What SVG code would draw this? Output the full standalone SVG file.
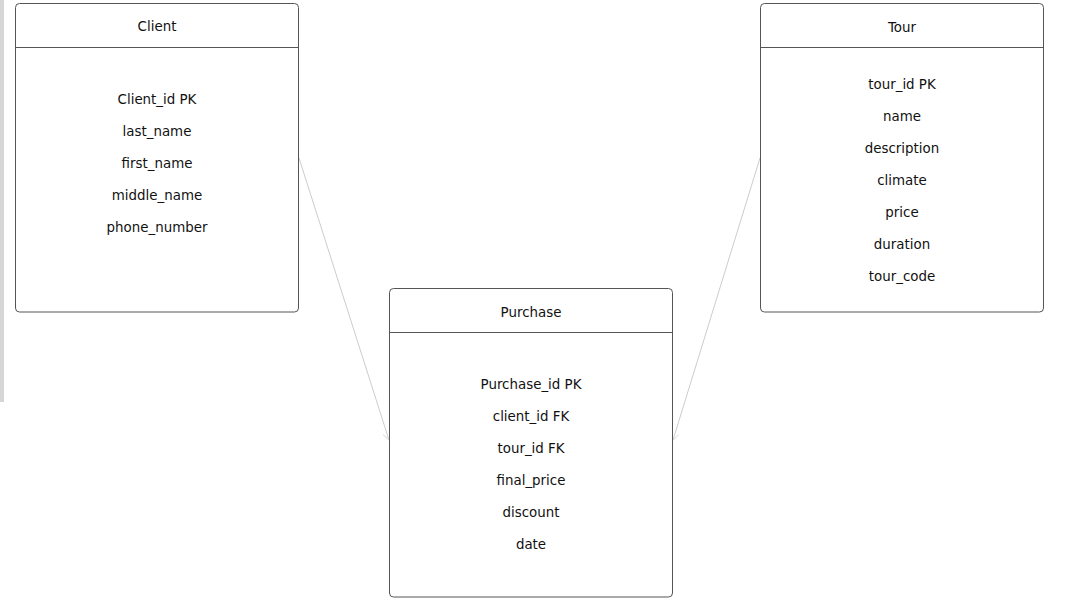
<svg xmlns="http://www.w3.org/2000/svg" width="1075" height="604" viewBox="0 0 1075 604">
<style>
.box{fill:#fff;stroke:#555;stroke-width:1}
.div{stroke:#555;stroke-width:1}
text{font-family:"DejaVu Sans",Verdana,sans-serif;font-size:13.4px;fill:#111;text-anchor:middle;dominant-baseline:central}
.conn{stroke:#ccc;stroke-width:1;fill:none}
</style>
<defs>
<marker id="arr" markerWidth="10" markerHeight="10" refX="9" refY="5" orient="auto" markerUnits="userSpaceOnUse">
<path d="M2,1 L9,5 L2,9" fill="none" stroke="#ddd" stroke-width="1"/>
</marker>
</defs>
<rect x="0" y="0" width="1075" height="604" fill="#fff"/>
<rect x="0" y="0" width="4" height="402" fill="#d6d6d6"/>
<g id="connectors">
<line class="conn" x1="299" y1="158" x2="389" y2="440" marker-end="url(#arr)"/>
<line class="conn" x1="760" y1="158" x2="673" y2="440" marker-end="url(#arr)"/>
</g>
<g id="client">
<rect class="box" x="15.5" y="3.5" width="283" height="308.5" rx="4"/>
<line class="div" x1="15.5" y1="47.5" x2="298.5" y2="47.5"/>
<text x="157" y="26">Client</text>
<text x="157" y="99">Client_id PK</text>
<text x="157" y="131">last_name</text>
<text x="157" y="163">first_name</text>
<text x="157" y="195">middle_name</text>
<text x="157" y="227">phone_number</text>
</g>
<g id="tour">
<rect class="box" x="760.5" y="3.5" width="283" height="308.5" rx="4"/>
<line class="div" x1="760.5" y1="47.5" x2="1043.5" y2="47.5"/>
<text x="902" y="27">Tour</text>
<text x="902" y="84">tour_id PK</text>
<text x="902" y="116">name</text>
<text x="902" y="148">description</text>
<text x="902" y="180">climate</text>
<text x="902" y="212">price</text>
<text x="902" y="244">duration</text>
<text x="902" y="276">tour_code</text>
</g>
<g id="purchase">
<rect class="box" x="389.5" y="288.5" width="283" height="308.5" rx="4"/>
<line class="div" x1="389.5" y1="332.5" x2="672.5" y2="332.5"/>
<text x="531" y="312">Purchase</text>
<text x="531" y="384">Purchase_id PK</text>
<text x="531" y="416">client_id FK</text>
<text x="531" y="448">tour_id FK</text>
<text x="531" y="480">final_price</text>
<text x="531" y="512">discount</text>
<text x="531" y="544">date</text>
</g>
</svg>
